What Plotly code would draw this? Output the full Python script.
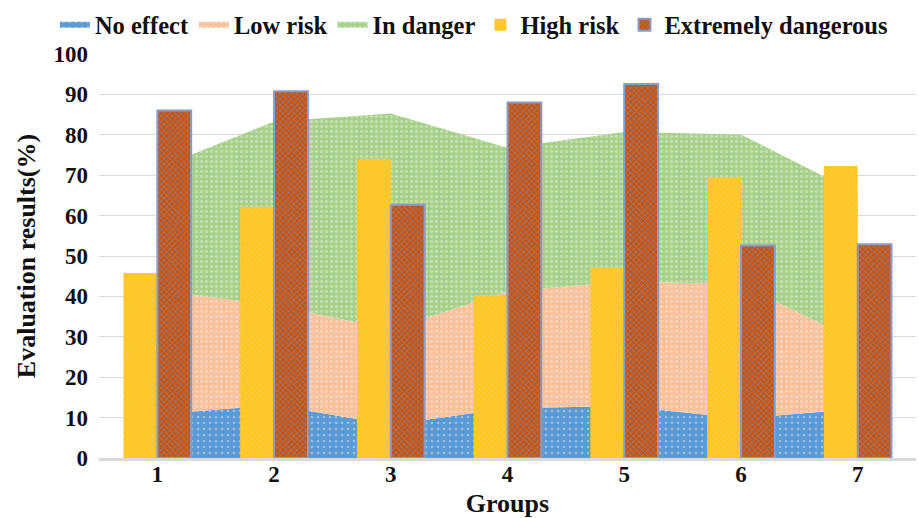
import plotly.graph_objects as go

groups = [1, 2, 3, 4, 5, 6, 7]
no_effect = [10.8, 13.1, 8.2, 12.3, 12.9, 9.8, 12.2]
low_risk = [30.8, 24.7, 23.6, 28.9, 30.8, 33.2, 16.5]
in_danger = [30.1, 45.5, 53.5, 35.6, 37.0, 37.1, 36.8]
high_risk = [45.8, 62.2, 74.1, 40.3, 47.1, 69.4, 72.3]
extremely = [86.0, 90.8, 62.7, 88.0, 92.6, 52.6, 52.9]
y_ticks = list(range(0, 101, 10))

FONT = "Liberation Serif"

fig = go.Figure()

fig.add_trace(go.Scatter(
    x=groups, y=no_effect, name="No effect", stackgroup="risk", mode="none",
    fillcolor="#5B9BD5",
    fillpattern=dict(shape=".", fgcolor="#D6E6F5", bgcolor="#5B9BD5", size=6, solidity=0.15),
    xaxis="x", yaxis="y"))
fig.add_trace(go.Scatter(
    x=groups, y=low_risk, name="Low risk", stackgroup="risk", mode="none",
    fillcolor="#F8C6A4",
    fillpattern=dict(shape=".", fgcolor="#FCE4D6", bgcolor="#F7C19C", size=5, solidity=0.3),
    xaxis="x", yaxis="y"))
fig.add_trace(go.Scatter(
    x=groups, y=in_danger, name="In danger", stackgroup="risk", mode="none",
    fillcolor="#A9D18E",
    fillpattern=dict(shape=".", fgcolor="#DDEED2", bgcolor="#A6D08A", size=5, solidity=0.35),
    xaxis="x", yaxis="y"))

fig.add_trace(go.Bar(
    x=groups, y=high_risk, name="High risk",
    marker=dict(color="#FFC000",
                pattern=dict(shape="x", fgcolor="#FFE07A", bgcolor="#FFC522", size=4, solidity=0.3),
                line=dict(width=0)),
    xaxis="x2", yaxis="y2"))
fig.add_trace(go.Bar(
    x=groups, y=extremely, name="Extremely dangerous",
    marker=dict(color="#C0561A",
                pattern=dict(shape="x", fgcolor="#8D9CC2", bgcolor="#C0561A", size=4, solidity=0.35),
                line=dict(width=2, color="#8C9BC4")),
    xaxis="x2", yaxis="y2"))

fig.update_layout(
    width=919, height=518,
    margin=dict(l=99, r=3, t=54, b=60, autoexpand=False),
    plot_bgcolor="white", paper_bgcolor="white",
    font=dict(family=FONT, size=22, color="#111111", weight="bold"),
    barmode="group", bargap=0.42, bargroupgap=0,
    showlegend=True,
    legend=dict(orientation="h", x=-0.054, xanchor="left", y=1.072, yanchor="middle",
                font=dict(family=FONT, size=24.5, color="#111111", weight="bold"),
                traceorder="normal", itemwidth=30, bgcolor="rgba(0,0,0,0)"),
    xaxis=dict(range=[0.5, 7.5], tickvals=groups, ticktext=[str(g) for g in groups],
               showgrid=False, zeroline=False, showline=True, linecolor="#D9D9D9", linewidth=3,
               ticks="", automargin=False, ticklabelstandoff=-7,
               tickfont=dict(family=FONT, size=23, weight="bold"),
               title=dict(text="Groups", font=dict(family=FONT, size=26, weight="bold"), standoff=24)),
    yaxis=dict(range=[0, 100], tickvals=y_ticks, showgrid=True, gridcolor="#D9D9D9", gridwidth=1,
               zeroline=False, showline=False, ticks="", automargin=False, ticklabelstandoff=10,
               tickfont=dict(family=FONT, size=23, weight="bold"),
               title=dict(text="Evaluation results(%)", font=dict(family=FONT, size=26, weight="bold"), standoff=10)),
    xaxis2=dict(range=[0.5, 7.5], overlaying="x", visible=False),
    yaxis2=dict(range=[0, 100], overlaying="y", visible=False),
)

fig.write_html("out.html")
